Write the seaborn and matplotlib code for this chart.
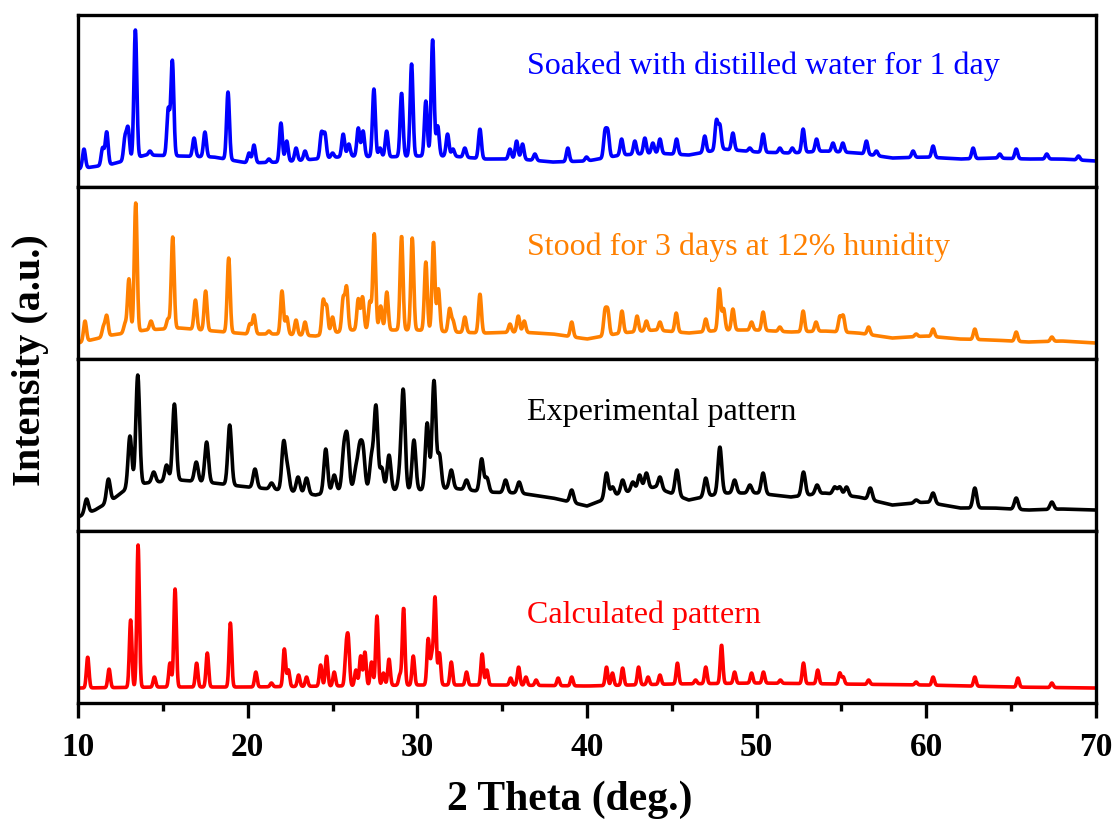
import numpy as np
import pandas as pd
import matplotlib
matplotlib.use("Agg")
import matplotlib.pyplot as plt
from matplotlib.ticker import MultipleLocator
import seaborn as sns

# ---------------- data ----------------
# peak positions (2 theta, deg) and apex intensities (a.u.) for each pattern,
# plus baseline anchor points (2 theta, intensity)

soaked_peaks = [10.35, 11.45, 11.69, 12.77, 12.95, 13.38, 14.24, 15.32, 15.56, 16.84,
                17.48, 18.84, 20.08, 20.37, 21.25, 21.96, 22.30, 22.85, 23.38, 24.35,
                24.55, 25.00, 25.63, 25.96, 26.52, 26.80, 27.44, 27.80, 28.19, 29.07,
                29.66, 30.50, 30.90, 31.20, 31.78, 32.10, 32.80, 33.69, 35.46, 35.85,
                36.20, 36.93, 38.87, 39.97, 41.06, 41.23, 42.04, 42.82, 43.41, 43.88,
                44.30, 45.28, 46.94, 47.63, 47.83, 48.60, 49.60, 50.38, 51.37, 52.10,
                52.74, 53.53, 54.50, 55.08, 56.47, 57.06, 59.22, 60.40, 62.76, 64.33,
                65.30, 67.10, 68.97]
soaked_apex = [38, 39, 55, 49, 58, 157, 36, 78, 126, 49,
               55, 95, 34, 42, 28, 64, 46, 39, 36, 54,
               53, 34, 53, 43, 59, 56, 98, 39, 56, 94,
               123, 86, 147, 61, 53, 38, 39, 58, 38, 46,
               43, 33, 39, 30, 54, 54, 48, 46, 49, 44,
               48, 48, 51, 66, 61, 54, 39, 53, 39, 39,
               58, 48, 44, 44, 46, 36, 36, 41, 39, 33,
               38, 33, 31]
soaked_base_x = [10, 12, 14, 16, 18, 20, 22, 24, 26, 28, 30, 32, 34, 36, 38, 40,
                 42, 44, 46, 48, 50, 52, 54, 56, 58, 60, 62, 64, 66, 68, 70]
soaked_base_y = [18, 23, 32, 31, 30, 24, 25, 28, 31, 30, 31, 31, 28, 28, 25, 26,
                 32, 34, 32, 38, 35, 34, 36, 34, 29, 30, 28, 29, 28, 28, 26]

stood_peaks = [10.41, 11.50, 11.69, 12.77, 13.00, 13.40, 14.30, 15.30, 15.58, 16.92,
               17.52, 18.88, 20.13, 20.37, 21.25, 22.02, 22.30, 22.85, 23.38, 24.45,
               24.65, 25.00, 25.63, 25.83, 26.52, 26.77, 27.20, 27.46, 27.84, 28.20,
               29.07, 29.70, 30.50, 30.95, 31.24, 31.90, 32.10, 32.80, 33.69, 35.46,
               35.95, 36.30, 39.10, 41.06, 41.23, 42.06, 42.95, 43.50, 44.30, 45.26,
               47.00, 47.80, 48.05, 48.60, 49.70, 50.38, 51.37, 52.74, 53.50, 54.90,
               55.10, 56.60, 59.40, 60.40, 62.86, 65.30, 67.40]
stood_apex = [38, 32, 43, 35, 80, 156, 38, 40, 122, 59,
              68, 101, 35, 44, 28, 68, 42, 39, 37, 58,
              52, 42, 60, 71, 60, 62, 57, 125, 53, 67,
              123, 121, 97, 117, 70, 50, 38, 42, 65, 35,
              43, 38, 37, 47, 47, 48, 43, 38, 37, 46,
              40, 70, 50, 50, 37, 47, 32, 48, 37, 42,
              43, 32, 25, 30, 30, 27, 22]
stood_base_x = [10, 12, 14, 16, 18, 20, 22, 24, 26, 28, 30, 32, 34, 36, 38, 40,
                42, 44, 46, 48, 50, 52, 54, 56, 58, 60, 62, 64, 66, 68, 70]
stood_base_y = [16, 24, 29, 31, 28, 25, 25, 23, 29, 29, 29, 27, 26, 27, 25, 20,
                26, 29, 26, 29, 29, 27, 28, 26, 21, 23, 20, 19, 17, 18, 16]

exp_peaks = [10.50, 11.79, 13.06, 13.52, 14.46, 15.22, 15.68, 16.97, 17.58, 18.94,
             20.43, 21.41, 22.12, 22.35, 22.97, 23.47, 24.60, 25.10, 25.67, 25.87,
             26.38, 26.60, 26.80, 27.30, 27.56, 27.90, 28.33, 28.97, 29.17, 29.80,
             30.58, 30.98, 31.30, 32.00, 32.90, 33.79, 34.10, 35.20, 36.00, 39.10,
             41.15, 41.50, 42.10, 42.70, 43.10, 43.50, 44.30, 45.30, 47.00, 47.83,
             48.70, 49.60, 50.38, 52.76, 53.56, 54.60, 54.90, 55.30, 56.70, 59.40,
             60.40, 62.86, 65.30, 67.40]
exp_apex = [32, 52, 95, 156, 59, 66, 127, 69, 89, 106,
            62, 48, 88, 61, 54, 53, 82, 56, 79, 90,
            61, 79, 79, 73, 124, 63, 76, 56, 139, 91,
            108, 150, 76, 61, 51, 72, 53, 51, 49, 41,
            58, 44, 51, 49, 56, 58, 54, 61, 53, 84,
            51, 46, 58, 59, 46, 44, 44, 44, 43, 31,
            38, 43, 33, 29]
exp_base_x = [10, 11, 12, 13, 14, 16, 18, 20, 22, 24, 26, 28, 30, 32, 34, 36, 38, 40,
              42, 44, 46, 48, 50, 52, 54, 56, 58, 60, 62, 64, 66, 68, 70]
exp_base_y = [14, 21, 31, 44, 48, 51, 48, 44, 41, 36, 43, 41, 41, 43, 39, 38, 33, 25,
              38, 44, 31, 38, 38, 34, 38, 34, 26, 29, 23, 23, 21, 22, 21]

calc_peaks = [10.57, 11.83, 13.10, 13.54, 14.50, 15.42, 15.72, 16.99, 17.62, 18.98,
              20.48, 21.40, 22.16, 22.40, 23.00, 23.47, 24.30, 24.65, 25.10, 25.80,
              25.93, 26.38, 26.66, 26.91, 27.30, 27.62, 28.00, 28.33, 28.97, 29.19,
              29.76, 30.64, 30.85, 31.04, 31.30, 32.00, 32.90, 33.82, 34.10, 35.50,
              35.97, 36.40, 37.00, 38.30, 39.10, 41.15, 41.50, 42.10, 43.04, 43.60,
              44.30, 45.33, 46.40, 47.00, 47.93, 48.70, 49.70, 50.40, 51.40, 52.76,
              53.60, 54.90, 55.10, 56.60, 59.40, 60.40, 62.86, 65.40, 67.40]
calc_apex = [46, 34, 83, 158, 26, 40, 114, 40, 50, 80,
             31, 20, 54, 33, 28, 26, 38, 47, 31, 50,
             60, 33, 47, 51, 41, 87, 30, 44, 28, 95,
             47, 64, 46, 105, 50, 41, 31, 49, 33, 25,
             36, 26, 23, 25, 26, 36, 30, 35, 36, 26,
             28, 40, 23, 36, 58, 31, 30, 31, 23, 40,
             33, 30, 26, 23, 21, 26, 26, 25, 20]
calc_base_x = [10, 15, 20, 25, 30, 35, 40, 45, 50, 55, 60, 65, 70]
calc_base_y = [15, 16, 16, 17, 18, 18, 17, 19, 20, 19, 18, 16, 15]

labels = ["Soaked with distilled water for 1 day",
          "Stood for 3 days at 12% hunidity",
          "Experimental pattern",
          "Calculated pattern"]
colors = ["#0000FF", "#FF8000", "#000000", "#FF0000"]
x_ticks = [10, 20, 30, 40, 50, 60, 70]

series = [
    (soaked_peaks, soaked_apex, soaked_base_x, soaked_base_y, 0.085),
    (stood_peaks, stood_apex, stood_base_x, stood_base_y, 0.085),
    (exp_peaks, exp_apex, exp_base_x, exp_base_y, 0.11),
    (calc_peaks, calc_apex, calc_base_x, calc_base_y, 0.075),
]


def pattern(two_theta, peaks, apex, bx, by, width):
    base = np.interp(two_theta, bx, by)
    y = base.copy()
    for p, a in zip(peaks, apex):
        h = a - np.interp(p, bx, by)
        y += h * np.exp(-0.5 * ((two_theta - p) / width) ** 2)
    return y


two_theta = np.linspace(10, 70, 3001)

# ---------------- figure ----------------
sns.set_theme(style="white")
plt.rcParams["font.family"] = ["Liberation Serif", "DejaVu Serif"]
plt.rcParams["text.color"] = "black"

fig, axes = plt.subplots(4, 1, sharex=True, figsize=(11.18, 8.21), dpi=100)
fig.subplots_adjust(left=0.0698, right=0.9803, top=0.9817, bottom=0.1437, hspace=0)

text_y = [0.70, 0.65, 0.69, 0.51]

for ax, (pk, ap, bx, by, w), lab, col, ty in zip(axes, series, labels, colors, text_y):
    df = pd.DataFrame({"two_theta": two_theta,
                       "intensity": pattern(two_theta, pk, ap, bx, by, w)})
    sns.lineplot(data=df, x="two_theta", y="intensity", ax=ax, color=col,
                 lw=2.6, estimator=None, sort=False)
    ax.set_xlim(10, 70)
    ax.set_ylim(0, 172)
    ax.set_yticks([])
    ax.set_xlabel("")
    ax.set_ylabel("")
    ax.set_facecolor("white")
    for s in ax.spines.values():
        s.set_visible(True)
        s.set_color("black")
        s.set_linewidth(2.4)
    ax.text(36.45, ty, lab, transform=ax.get_xaxis_transform(), color=col,
            fontsize=23, ha="left", va="center", family="Liberation Serif")
    ax.tick_params(axis="x", which="both", bottom=False, top=False, labelbottom=False)

bax = axes[-1]
bax.set_xticks(x_ticks)
bax.xaxis.set_minor_locator(MultipleLocator(5))
bax.tick_params(axis="x", which="major", bottom=True, direction="out", length=11,
                width=2.4, pad=10, labelbottom=True, labelsize=24, colors="black")
bax.tick_params(axis="x", which="minor", bottom=True, direction="out", length=6,
                width=2.4, colors="black")
for t in bax.get_xticklabels():
    t.set_fontweight("bold")

fig.text(0.51, 0.026, "2 Theta (deg.)", ha="center", va="center",
         fontsize=30, fontweight="bold", color="black")
fig.text(0.027, 0.5615, "Intensity (a.u.)", ha="center", va="center",
         rotation=90, fontsize=29, fontweight="bold", color="black")

fig.savefig("out.png", dpi=100, facecolor="white")
